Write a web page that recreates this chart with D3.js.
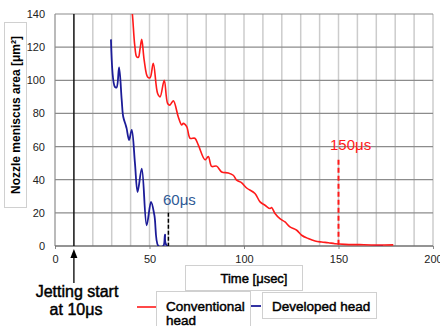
<!DOCTYPE html>
<html>
<head>
<meta charset="utf-8">
<script src="https://cdn.jsdelivr.net/npm/d3@7"></script>
<style>
  body { margin: 0; background: #fff; }
  svg { font-family: Arial, "Liberation Sans", sans-serif; }
  .heavy { stroke: #000; stroke-width: 0.45; }
</style>
</head>
<body>
<svg width="440" height="326"></svg>
<script>
// conventional head: [time usec, area um2]
const conventional = [
  [40.2, 146], [40.9, 140.4], [42.2, 121], [43.2, 114.2], [44.1, 113.8], [45.0, 119], [45.9, 124.7],
  [47.2, 112], [49, 102], [50.3, 101.5], [52, 110.2], [54.3, 92], [55.6, 90],
  [57.8, 100], [59.6, 86], [60.8, 85], [62.6, 87.6], [65.2, 78], [67, 73], [67.9, 74],
  [69.7, 72], [71.5, 65], [74, 65], [75.8, 61], [79.4, 52], [81.1, 54], [82.9, 48],
  [85.5, 48.2], [88.2, 44.7], [91.7, 44.1], [94.3, 42.7], [96.1, 39.7], [98.8, 38.1],
  [101.4, 35], [105.8, 31.7], [108.5, 26.6], [111.1, 24.6], [113.8, 22.6], [114.6, 23.2],
  [116.4, 19.6], [119, 16.5], [121.7, 14.5], [124.3, 11.5], [127.9, 9.5], [130.5, 6.5],
  [134, 4.5], [137.6, 3], [141.1, 2.4], [144.6, 2], [148.1, 1.4], [153.4, 1],
  [161, 0.8], [170, 0.6], [179, 0.7]
];
// developed head
const developed = [
  [29.6, 124.7], [31.7, 96], [32.6, 95.7], [33.9, 107.8], [35.3, 88], [36.1, 78],
  [37.4, 73], [37.9, 71], [39.2, 63.9], [40.6, 70], [42.3, 50], [43.7, 32.6],
  [45.9, 46.7], [48.5, 12.5], [50.8, 26.6], [52.6, 18.5], [54.7, 0], [57.3, 0],
  [58.2, 6.9], [59.4, 0], [173.5, 0]
];
const xTicks = [0, 50, 100, 150, 200];
const yTicks = [0, 20, 40, 60, 80, 100, 120, 140];
const jetStart = 10;
const devEnd = 60;
const convEnd = 150;

const svg = d3.select('svg');
const x = d3.scaleLinear().domain([0, 200]).range([55, 433]);
const y = d3.scaleLinear().domain([0, 140]).range([246, 14]);

// y title box
svg.append('rect').attr('x', 4.5).attr('y', 22.5).attr('width', 22).attr('height', 185)
  .attr('fill', '#fff').attr('stroke', '#d0d0d0');
svg.append('text').attr('transform', 'translate(20,115) rotate(-90)')
  .attr('text-anchor', 'middle').attr('font-size', 12).attr('font-weight', 'bold')
  .text('Nozzle meniscus area [μm²]');

// grid
svg.append('g').selectAll('line').data(d3.range(10, 201, 10)).enter().append('line')
  .attr('x1', (d) => x(d)).attr('x2', (d) => x(d)).attr('y1', y(140)).attr('y2', y(0))
  .attr('stroke', '#cccccc').attr('stroke-width', 1.5);
svg.append('g').selectAll('line').data(yTicks.slice(1)).enter().append('line')
  .attr('x1', x(0)).attr('x2', x(200)).attr('y1', (d) => y(d)).attr('y2', (d) => y(d))
  .attr('stroke', '#8c8c8c').attr('stroke-width', 1.2);
svg.append('line').attr('x1', x(0)).attr('x2', x(0)).attr('y1', y(140)).attr('y2', y(0))
  .attr('stroke', '#8c8c8c').attr('stroke-width', 1.2);

// axes
const yAxis = svg.append('g').attr('transform', `translate(${x(0)},0)`)
  .call(d3.axisLeft(y).tickValues(yTicks).tickSize(0).tickPadding(10));
const xAxis = svg.append('g').attr('transform', `translate(0,${y(0)})`)
  .call(d3.axisBottom(x).tickValues(xTicks).tickSize(3).tickPadding(6));
[yAxis, xAxis].forEach((a) => {
  a.select('.domain').remove();
  a.selectAll('text').attr('font-size', 11).attr('fill', '#222')
    .attr('font-family', 'Arial, "Liberation Sans", sans-serif');
  a.selectAll('.tick line').attr('stroke', '#888');
});
svg.append('line').attr('x1', x(0)).attr('x2', x(200)).attr('y1', y(0)).attr('y2', y(0))
  .attr('stroke', '#707070').attr('stroke-width', 1.3);

// jetting start line
svg.append('line').attr('x1', x(jetStart)).attr('x2', x(jetStart)).attr('y1', y(140)).attr('y2', y(0))
  .attr('stroke', '#000').attr('stroke-width', 1.3);

// curves
svg.append('clipPath').attr('id', 'plot').append('rect')
  .attr('x', x(0)).attr('y', y(140)).attr('width', x(200) - x(0)).attr('height', y(0) - y(140));
const line = d3.line().x((d) => x(d[0])).y((d) => y(d[1])).curve(d3.curveCatmullRom);
const curves = svg.append('g').attr('clip-path', 'url(#plot)');
curves.append('path').datum(developed).attr('d', line)
  .attr('fill', 'none').attr('stroke', '#1c1c98').attr('stroke-width', 1.8);
curves.append('path').datum(conventional).attr('d', line)
  .attr('fill', 'none').attr('stroke', '#ff1a1a').attr('stroke-width', 1.6);

// end markers
svg.append('line').attr('x1', x(devEnd)).attr('x2', x(devEnd)).attr('y1', y(20)).attr('y2', y(0))
  .attr('stroke', '#000').attr('stroke-width', 1.5).attr('stroke-dasharray', '4,2');
svg.append('text').attr('x', 163).attr('y', 205).attr('font-size', 15).attr('fill', '#2f5a96')
  .text(devEnd + 'μs');
svg.append('line').attr('x1', x(convEnd)).attr('x2', x(convEnd)).attr('y1', y(52)).attr('y2', y(0))
  .attr('stroke', '#ff1a1a').attr('stroke-width', 2).attr('stroke-dasharray', '5,3');
svg.append('text').attr('x', 330).attr('y', 150).attr('font-size', 15).attr('fill', '#ff1a1a')
  .text(convEnd + 'μs');

// jetting start annotation
svg.append('line').attr('x1', x(jetStart)).attr('x2', x(jetStart)).attr('y1', 256).attr('y2', 283)
  .attr('stroke', '#000').attr('stroke-width', 1.3);
svg.append('path')
  .attr('d', `M${x(jetStart)},249 L${x(jetStart) - 3.5},258 L${x(jetStart) + 3.5},258 Z`)
  .attr('fill', '#000');
svg.append('text').attr('class', 'heavy').attr('x', 77).attr('y', 297).attr('text-anchor', 'middle')
  .attr('font-size', 16).attr('fill', '#000').text('Jetting start');
svg.append('text').attr('class', 'heavy').attr('x', 76).attr('y', 315).attr('text-anchor', 'middle')
  .attr('font-size', 16).attr('fill', '#000').text('at ' + jetStart + 'μs');

// x title
svg.append('rect').attr('x', 185.5).attr('y', 265.5).attr('width', 117).attr('height', 25)
  .attr('fill', '#fff').attr('stroke', '#d0d0d0');
svg.append('text').attr('class', 'heavy').attr('x', 254).attr('y', 283).attr('text-anchor', 'middle')
  .attr('font-size', 13).text('Time [μsec]');

// legend
svg.append('rect').attr('x', 156.5).attr('y', 291.5).attr('width', 94).attr('height', 40)
  .attr('fill', '#fff').attr('stroke', '#d0d0d0');
svg.append('line').attr('x1', 137).attr('x2', 156).attr('y1', 307).attr('y2', 307)
  .attr('stroke', '#ff1a1a').attr('stroke-width', 1.6);
svg.append('text').attr('class', 'heavy').attr('x', 166).attr('y', 311).attr('font-size', 13.5)
  .text('Conventional');
svg.append('text').attr('class', 'heavy').attr('x', 166).attr('y', 325).attr('font-size', 13.5)
  .text('head');
svg.append('line').attr('x1', 251).attr('x2', 261).attr('y1', 306).attr('y2', 306)
  .attr('stroke', '#1c1c98').attr('stroke-width', 1.8);
svg.append('rect').attr('x', 262.5).attr('y', 292.5).attr('width', 114).attr('height', 26)
  .attr('fill', '#fff').attr('stroke', '#d0d0d0');
svg.append('text').attr('class', 'heavy').attr('x', 272).attr('y', 311).attr('font-size', 13.5)
  .text('Developed head');
</script>
</body>
</html>
